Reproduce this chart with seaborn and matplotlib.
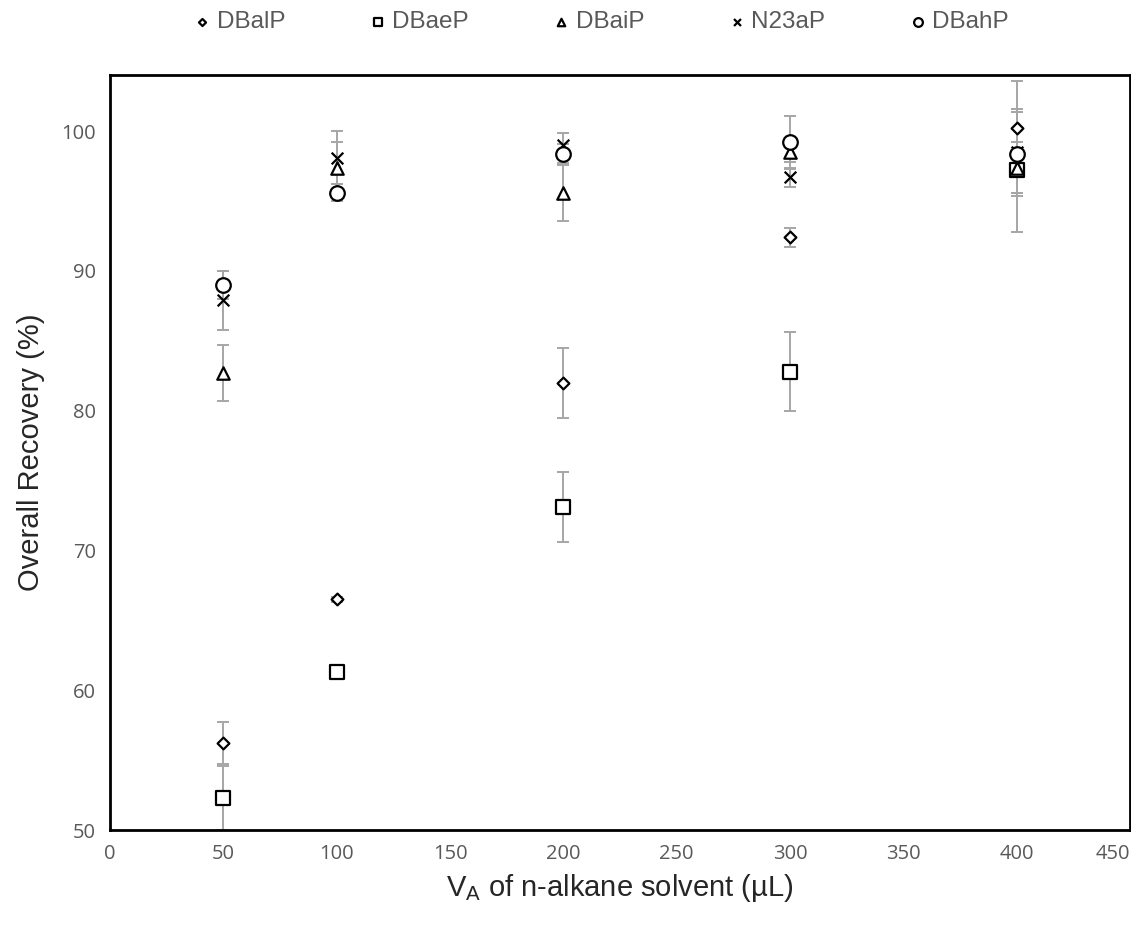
import matplotlib
matplotlib.use("Agg")
import matplotlib.pyplot as plt
import seaborn as sns
import pandas as pd

# Extraction volume of the n-alkane solvent (µL)
volumes = [50, 100, 200, 300, 400]

# Overall recovery (%) and standard deviation per compound
series_names = ["DBalP", "DBaeP", "DBaiP", "N23aP", "DBahP"]
dbalp = [56.2, 66.5, 82.0, 92.4, 100.2]
dbalp_sd = [1.5, 0.2, 2.5, 0.7, 3.4]
dbaep = [52.3, 61.3, 73.1, 82.8, 97.2]
dbaep_sd = [2.3, 0.4, 2.5, 2.8, 4.4]
dbaip = [82.7, 97.4, 95.6, 98.5, 97.4]
dbaip_sd = [2.0, 1.8, 2.0, 0.7, 1.8]
n23ap = [87.9, 98.1, 99.0, 96.7, 98.5]
n23ap_sd = [2.1, 1.9, 0.9, 0.7, 2.9]
dbahp = [89.0, 95.6, 98.4, 99.2, 98.4]
dbahp_sd = [1.0, 0.6, 0.7, 1.9, 3.0]

values = [dbalp, dbaep, dbaip, n23ap, dbahp]
errors = [dbalp_sd, dbaep_sd, dbaip_sd, n23ap_sd, dbahp_sd]

frames = []
for name, vals, errs in zip(series_names, values, errors):
    frames.append(pd.DataFrame({"volume": volumes, "recovery": vals,
                                "sd": errs, "compound": name}))
df = pd.concat(frames, ignore_index=True)

markers = {"DBalP": "D", "DBaeP": "s", "DBaiP": "^", "N23aP": "x", "DBahP": "o"}
sizes = {"DBalP": 36, "DBaeP": 110, "DBaiP": 80, "N23aP": 70, "DBahP": 110}

sns.set_theme(style="white")
plt.rcParams["font.family"] = ["Liberation Sans", "DejaVu Sans"]

fig = plt.figure(figsize=(11.31, 9.30), dpi=100)
ax = fig.add_axes([0.0973, 0.1075, 0.9017, 0.8115])

# error bars first, so markers sit on top
for name in series_names:
    sub = df[df["compound"] == name]
    ax.errorbar(sub["volume"], sub["recovery"], yerr=sub["sd"], fmt="none",
                ecolor="#a6a6a6", elinewidth=1.4, capsize=4, capthick=1.4,
                zorder=2)

for name in series_names:
    sub = df[df["compound"] == name]
    if markers[name] == "x":
        sns.scatterplot(data=sub, x="volume", y="recovery", marker="x",
                        s=sizes[name], color="black", linewidth=1.6,
                        label=name, ax=ax, zorder=3)
    else:
        sns.scatterplot(data=sub, x="volume", y="recovery",
                        marker=markers[name], s=sizes[name],
                        facecolor="white", edgecolor="black", linewidth=1.6,
                        label=name, ax=ax, zorder=3)

ax.set_xlim(0, 450)
ax.set_ylim(50, 104)
ax.set_xticks(range(0, 451, 50))
ax.set_yticks(range(50, 101, 10))
ax.tick_params(axis="both", labelsize=14.5, labelcolor="#595959", length=0, pad=10)
for lab in ax.get_xticklabels() + ax.get_yticklabels():
    lab.set_family(["Open Sans", "DejaVu Sans"])
# keep the last x label inside the figure
ax.get_xticklabels()[-1].set_horizontalalignment("right")

for spine in ax.spines.values():
    spine.set_color("black")
    spine.set_linewidth(2)

ax.set_xlabel("V$_\\mathregular{A}$ of n-alkane solvent (µL)", fontsize=21,
              color="#262626", labelpad=6)
ax.set_ylabel("Overall Recovery (%)", fontsize=21, color="#262626", labelpad=12)

leg = ax.legend(loc="center", bbox_to_anchor=(0.53, 0.976),
                bbox_transform=fig.transFigure, ncol=5, frameon=False,
                fontsize=17.5, markerscale=0.6, handletextpad=0.1,
                columnspacing=3.3, handlelength=1.0)
for t in leg.get_texts():
    t.set_color("#595959")

fig.savefig("out.png", dpi=100)
